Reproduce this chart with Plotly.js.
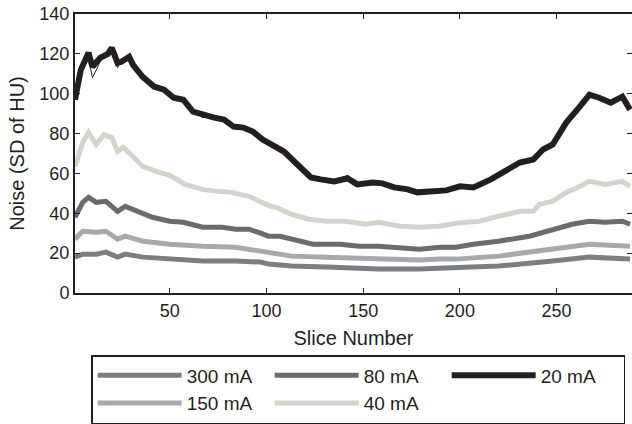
<!DOCTYPE html>
<html>
<head>
<meta charset="utf-8">
<script src="https://cdn.plot.ly/plotly-3.0.1.min.js"></script>
<style>html,body{margin:0;padding:0;background:#fff;}#chart{width:632px;height:424px;}</style>
</head>
<body>
<div id="chart"></div>
<script>
// Slice numbers and noise values (SD of HU)
const x20 = [1,4,8,10,14,18,20,23,25,29,31,36,42,47,52,57,62,67,73,78,83,88,93,98,104,109,116,123,128,135,142,147,155,160,166,173,178,185,193,200,207,216,224,231,238,243,248,255,262,267,272,278,284,288];
const y20 = [97,112,120.5,113.5,118,120,123,115.5,116,118.5,114.5,108.5,103.5,102,98,97,91,89.5,88,87,83.5,83,81,77,73.5,71,64.5,58,57,56,57.5,54.5,55.5,55,53,52,50.5,51,51.5,53.5,53,57,62,65.5,67,72,74.5,85.5,93.5,99.5,98,95.5,98.5,92];
const xRep20 = [1,4,8,10,14,18,20,23,25,29,31,36,42,47,52,57,62,67,73,78,83,88,93,98,104,109,116,123,128,135,142,147,155,160,166,173,178,185,193,200];
const yRep20 = [99,113,118,108,116,121,121,113,117,117,115,107,104,101,99,96,92,88,89,86,84,82,82,76,74,70,65,59,56,57,59,55,56,54,54,53,51,52,51,54];
const x40 = [1,5,8,12,16,20,23,26,31,36,43,50,58,67,74,82,91,97,102,105,113,122,131,141,151,158,169,179,189,198,210,220,231,238,241,248,255,262,267,275,284,288];
const y40 = [63.5,75.5,80.5,74.5,79.5,78,71,73,68.5,63.5,61,59,54.5,52,51,50.5,48.5,45.5,43.5,43,39.5,37,36,36,34.5,35.5,33.5,33,33.5,35,36,38.5,41,41,44.5,46,50.5,53.5,56,54.5,56,53.5];
const x80 = [1,5,8,12,17,23,27,33,41,50,57,67,77,84,91,97,101,107,117,124,138,148,158,179,190,198,207,220,236,248,258,267,275,284,288];
const y80 = [38,45.5,48,45.5,46,41,43.5,41,38,36,35.5,33,33,32,32,30,28.5,28.5,26,24.5,24.5,23.5,23.5,22,23,23,24.5,26,28.5,32,34.5,36,35.5,36,34.5];
const x150 = [1,5,12,17,23,27,36,50,67,84,97,101,113,131,158,179,190,198,220,248,267,288];
const y150 = [27,31,30.5,31,27,28.5,26,24.5,23.5,23,21,20.5,18.5,18,17,16.5,17,17,18.5,22,24.5,23.5];
const x300 = [1,5,12,17,23,27,36,50,67,84,97,101,113,131,158,179,190,198,220,248,267,288];
const y300 = [18,19.5,19.5,20.5,18,19.5,18,17,16,16,15.5,14.5,13.5,13,12,12,12.5,12.5,13.5,16,18,17];
const seriesNames = ['300 mA','80 mA','20 mA','150 mA','40 mA'];
const xTicks = [50,100,150,200,250];
const yTicks = [0,20,40,60,80,100,120,140];

const colors = {'300 mA':'#7c7d81','80 mA':'#6a6b6f','20 mA':'#231f20','150 mA':'#a8a9ad','40 mA':'#d6d3cc'};
const dataMap = {'300 mA':[x300,y300],'80 mA':[x80,y80],'20 mA':[x20,y20],'150 mA':[x150,y150],'40 mA':[x40,y40]};

const traces = seriesNames.map(n => ({
  x: dataMap[n][0], y: dataMap[n][1], name: n, type: 'scatter', mode: 'lines',
  line: {color: colors[n], width: n === '20 mA' ? 6 : 5}
}));
traces.push({x: xRep20, y: yRep20, type:'scatter', mode:'lines', showlegend:false,
  line:{color:'#231f20', width:1}, hoverinfo:'skip'});

const font = {family: '"Liberation Sans", Arial, Helvetica, sans-serif', color: '#231f20'};
const layout = {
  width: 632, height: 424,
  margin: {l: 75, r: 0, t: 14, b: 130},
  paper_bgcolor: '#fff', plot_bgcolor: '#fff',
  showlegend: true,
  font: Object.assign({}, font, {size: 18}),
  xaxis: {
    range: [1, 289], tickvals: xTicks, ticks: 'inside', ticklen: 5, tickwidth: 1.2, tickcolor: '#231f20',
    showline: true, linecolor: '#231f20', linewidth: 2, mirror: 'ticks', showgrid: false, zeroline: false,
    tickfont: Object.assign({}, font, {size: 18}),
    title: {text: 'Slice Number', font: Object.assign({}, font, {size: 20}), standoff: 11}
  },
  yaxis: {
    range: [0, 140], tickvals: yTicks, ticks: 'inside', ticklen: 5, tickwidth: 1.2, tickcolor: '#231f20',
    showline: true, linecolor: '#231f20', linewidth: 2, mirror: 'ticks', showgrid: false, zeroline: false,
    tickfont: Object.assign({}, font, {size: 18}),
    title: {text: 'Noise (SD of HU)', font: Object.assign({}, font, {size: 20}), standoff: 9}
  },
  legend: {
    orientation: 'h', x: 0.029, xanchor: 'left', y: -0.221, yanchor: 'top',
    bordercolor: '#231f20', borderwidth: 1.5, bgcolor: '#fff',
    entrywidth: 78, entrywidthmode: 'pixels', itemwidth: 84,
    font: Object.assign({}, font, {size: 19}), traceorder: 'normal'
  }
};
Plotly.newPlot('chart', traces, layout, {staticPlot: true, displayModeBar: false});
</script>
</body>
</html>
